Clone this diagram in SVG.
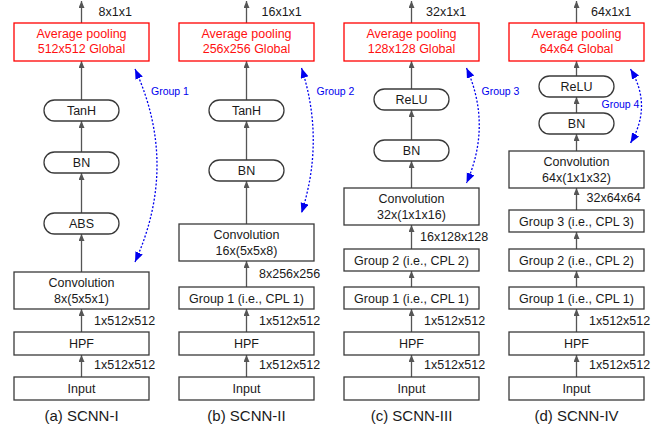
<svg xmlns="http://www.w3.org/2000/svg" width="665" height="427" viewBox="0 0 665 427">
<style>
.box{fill:#fff;stroke:#3a3a3a;stroke-width:1.3}
.pool{fill:#fff;stroke:#ff0000;stroke-width:1.3}
text{font-family:"Liberation Sans",Arial,sans-serif;font-size:12.5px;fill:#1a1a1a}
.c{text-anchor:middle}
.r{fill:#ff1010}
.cap{font-size:15px}
.g{font-size:10.5px;fill:#0000ee}
.a{stroke:#555;stroke-width:1.3;fill:none;marker-end:url(#ah)}
.d{stroke:#0000ee;stroke-width:1.3;stroke-dasharray:2,1.8;fill:none;marker-start:url(#bh);marker-end:url(#bh)}
</style>
<defs>
<marker id="ah" markerUnits="userSpaceOnUse" markerWidth="8" markerHeight="7" refX="7" refY="3" orient="auto"><path d="M0,0 L7,3 L0,6 z" fill="#555"/></marker>
<marker id="bh" markerUnits="userSpaceOnUse" markerWidth="11" markerHeight="9" refX="10" refY="4" orient="auto-start-reverse"><path d="M0,0 L10,4 L0,8 z" fill="#0000ee"/></marker>
</defs>
<rect width="665" height="427" fill="#fff"/>
<g id="connectors">
<line class="a" x1="81.5" y1="377" x2="81.5" y2="355"/>
<line class="a" x1="81.5" y1="332" x2="81.5" y2="309"/>
<line class="a" x1="81.5" y1="272" x2="81.5" y2="234"/>
<line class="a" x1="81.5" y1="213" x2="81.5" y2="173"/>
<line class="a" x1="81.5" y1="152" x2="81.5" y2="121"/>
<line class="a" x1="81.5" y1="100" x2="81.5" y2="61"/>
<line class="a" x1="81.5" y1="23" x2="81.5" y2="1"/>
<path class="d" d="M135,69 Q179,165 135,262"/>
<line class="a" x1="246.5" y1="377" x2="246.5" y2="355"/>
<line class="a" x1="246.5" y1="332" x2="246.5" y2="309"/>
<line class="a" x1="246.5" y1="287" x2="246.5" y2="261"/>
<line class="a" x1="246.5" y1="224" x2="246.5" y2="181"/>
<line class="a" x1="246.5" y1="160" x2="246.5" y2="121"/>
<line class="a" x1="246.5" y1="100" x2="246.5" y2="61"/>
<line class="a" x1="246.5" y1="23" x2="246.5" y2="1"/>
<path class="d" d="M301.5,68 Q325,140 301.5,213"/>
<line class="a" x1="411.5" y1="377" x2="411.5" y2="355"/>
<line class="a" x1="411.5" y1="332" x2="411.5" y2="309"/>
<line class="a" x1="411.5" y1="287" x2="411.5" y2="271"/>
<line class="a" x1="411.5" y1="249" x2="411.5" y2="225"/>
<line class="a" x1="411.5" y1="188" x2="411.5" y2="161"/>
<line class="a" x1="411.5" y1="140" x2="411.5" y2="110"/>
<line class="a" x1="411.5" y1="89" x2="411.5" y2="61"/>
<line class="a" x1="411.5" y1="23" x2="411.5" y2="1"/>
<path class="d" d="M466.5,68 Q492,125 466.5,183"/>
<line class="a" x1="576.5" y1="377" x2="576.5" y2="355"/>
<line class="a" x1="576.5" y1="332" x2="576.5" y2="309"/>
<line class="a" x1="576.5" y1="287" x2="576.5" y2="271"/>
<line class="a" x1="576.5" y1="249" x2="576.5" y2="232"/>
<line class="a" x1="576.5" y1="210" x2="576.5" y2="188"/>
<line class="a" x1="576.5" y1="151" x2="576.5" y2="134"/>
<line class="a" x1="576.5" y1="113" x2="576.5" y2="97"/>
<line class="a" x1="576.5" y1="76" x2="576.5" y2="61"/>
<line class="a" x1="576.5" y1="23" x2="576.5" y2="1"/>
<path class="d" d="M630.5,69 Q652.5,106 630.5,143"/>
</g>
<g id="labels">
<text x="98.5" y="15.5">8x1x1</text>
<text x="94" y="325">1x512x512</text>
<text x="94" y="369">1x512x512</text>
<text class="g" x="151" y="95">Group 1</text>
<text class="c cap" x="81.5" y="421">(a) SCNN-I</text>
<text x="261.5" y="15.5">16x1x1</text>
<text x="259" y="278">8x256x256</text>
<text x="259" y="325">1x512x512</text>
<text x="259" y="369">1x512x512</text>
<text class="g" x="316.5" y="95">Group 2</text>
<text class="c cap" x="246.5" y="421">(b) SCNN-II</text>
<text x="426" y="15.5">32x1x1</text>
<text x="420" y="241">16x128x128</text>
<text x="424" y="325">1x512x512</text>
<text x="424" y="369">1x512x512</text>
<text class="g" x="481.5" y="95">Group 3</text>
<text class="c cap" x="411.5" y="421">(c) SCNN-III</text>
<text x="591" y="15.5">64x1x1</text>
<text x="586.5" y="202">32x64x64</text>
<text x="589" y="325">1x512x512</text>
<text x="589" y="369">1x512x512</text>
<text class="g" x="601.5" y="108">Group 4</text>
<text class="c cap" x="576.5" y="421">(d) SCNN-IV</text>
</g>
<g id="a_pool"><rect class="pool" x="14" y="23" width="135" height="38"/><text class="c r" x="81.5" y="37.5">Average pooling</text><text class="c r" x="81.5" y="53">512x512 Global</text></g>
<g id="a_tanh"><rect class="box" x="44" y="100" width="75" height="21" rx="10.5"/><text class="c" x="81.5" y="115">TanH</text></g>
<g id="a_bn"><rect class="box" x="44" y="152" width="75" height="21" rx="10.5"/><text class="c" x="81.5" y="167">BN</text></g>
<g id="a_abs"><rect class="box" x="44" y="213" width="75" height="21" rx="10.5"/><text class="c" x="81.5" y="228">ABS</text></g>
<g id="a_conv"><rect class="box" x="14" y="272" width="135" height="37"/><text class="c" x="81.5" y="286.5">Convolution</text><text class="c" x="81.5" y="302.5">8x(5x5x1)</text></g>
<g id="a_hpf"><rect class="box" x="14" y="332" width="135" height="23"/><text class="c" x="81.5" y="348">HPF</text></g>
<g id="a_input"><rect class="box" x="14" y="377" width="135" height="23"/><text class="c" x="81.5" y="393">Input</text></g>
<g id="b_pool"><rect class="pool" x="179" y="23" width="135" height="38"/><text class="c r" x="246.5" y="37.5">Average pooling</text><text class="c r" x="246.5" y="53">256x256 Global</text></g>
<g id="b_tanh"><rect class="box" x="209" y="100" width="75" height="21" rx="10.5"/><text class="c" x="246.5" y="115">TanH</text></g>
<g id="b_bn"><rect class="box" x="209" y="160" width="75" height="21" rx="10.5"/><text class="c" x="246.5" y="175">BN</text></g>
<g id="b_conv"><rect class="box" x="179" y="224" width="135" height="37"/><text class="c" x="246.5" y="238.5">Convolution</text><text class="c" x="246.5" y="254.5">16x(5x5x8)</text></g>
<g id="b_group1"><rect class="box" x="179" y="287" width="135" height="22"/><text class="c" x="246.5" y="302.5">Group 1 (i.e., CPL 1)</text></g>
<g id="b_hpf"><rect class="box" x="179" y="332" width="135" height="23"/><text class="c" x="246.5" y="348">HPF</text></g>
<g id="b_input"><rect class="box" x="179" y="377" width="135" height="23"/><text class="c" x="246.5" y="393">Input</text></g>
<g id="c_pool"><rect class="pool" x="344" y="23" width="135" height="38"/><text class="c r" x="411.5" y="37.5">Average pooling</text><text class="c r" x="411.5" y="53">128x128 Global</text></g>
<g id="c_relu"><rect class="box" x="374" y="89" width="75" height="21" rx="10.5"/><text class="c" x="411.5" y="104">ReLU</text></g>
<g id="c_bn"><rect class="box" x="374" y="140" width="75" height="21" rx="10.5"/><text class="c" x="411.5" y="155">BN</text></g>
<g id="c_conv"><rect class="box" x="344" y="188" width="135" height="37"/><text class="c" x="411.5" y="202.5">Convolution</text><text class="c" x="411.5" y="218.5">32x(1x1x16)</text></g>
<g id="c_group2"><rect class="box" x="344" y="249" width="135" height="22"/><text class="c" x="411.5" y="264.5">Group 2 (i.e., CPL 2)</text></g>
<g id="c_group1"><rect class="box" x="344" y="287" width="135" height="22"/><text class="c" x="411.5" y="302.5">Group 1 (i.e., CPL 1)</text></g>
<g id="c_hpf"><rect class="box" x="344" y="332" width="135" height="23"/><text class="c" x="411.5" y="348">HPF</text></g>
<g id="c_input"><rect class="box" x="344" y="377" width="135" height="23"/><text class="c" x="411.5" y="393">Input</text></g>
<g id="d_pool"><rect class="pool" x="509" y="23" width="135" height="38"/><text class="c r" x="576.5" y="37.5">Average pooling</text><text class="c r" x="576.5" y="53">64x64 Global</text></g>
<g id="d_relu"><rect class="box" x="539" y="76" width="75" height="21" rx="10.5"/><text class="c" x="576.5" y="91">ReLU</text></g>
<g id="d_bn"><rect class="box" x="539" y="113" width="75" height="21" rx="10.5"/><text class="c" x="576.5" y="128">BN</text></g>
<g id="d_conv"><rect class="box" x="509" y="151" width="135" height="37"/><text class="c" x="576.5" y="165.5">Convolution</text><text class="c" x="576.5" y="181.5">64x(1x1x32)</text></g>
<g id="d_group3"><rect class="box" x="509" y="210" width="135" height="22"/><text class="c" x="576.5" y="225.5">Group 3 (i.e., CPL 3)</text></g>
<g id="d_group2"><rect class="box" x="509" y="249" width="135" height="22"/><text class="c" x="576.5" y="264.5">Group 2 (i.e., CPL 2)</text></g>
<g id="d_group1"><rect class="box" x="509" y="287" width="135" height="22"/><text class="c" x="576.5" y="302.5">Group 1 (i.e., CPL 1)</text></g>
<g id="d_hpf"><rect class="box" x="509" y="332" width="135" height="23"/><text class="c" x="576.5" y="348">HPF</text></g>
<g id="d_input"><rect class="box" x="509" y="377" width="135" height="23"/><text class="c" x="576.5" y="393">Input</text></g>
</svg>
